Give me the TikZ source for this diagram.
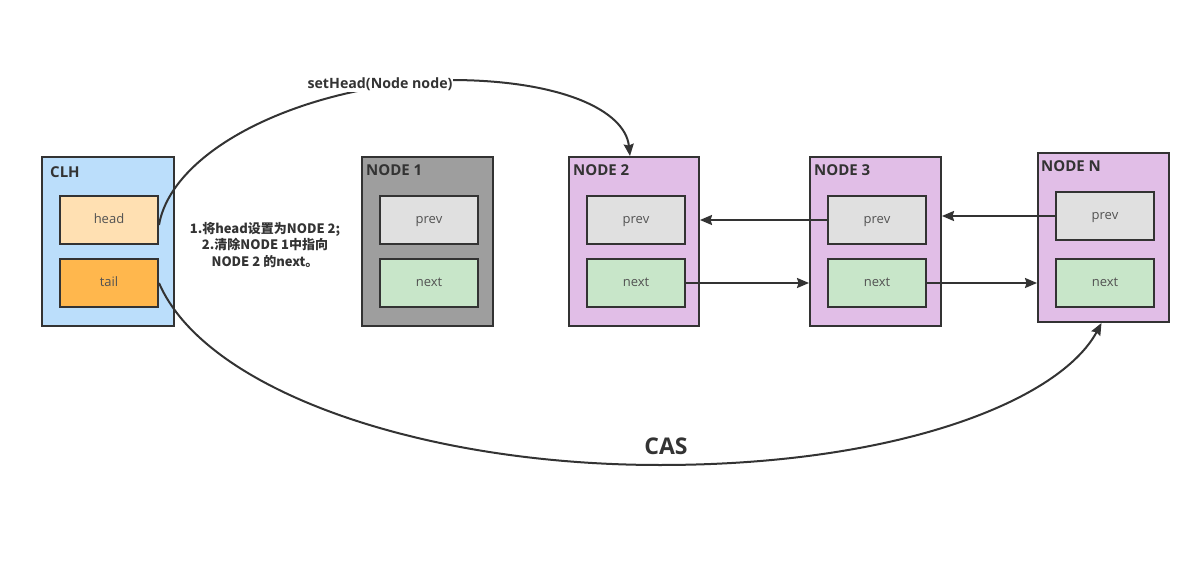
\documentclass[tikz,border=0pt]{standalone}
\usepackage{fontspec}
\setmainfont{Open Sans}
\newfontfamily\cjk{Noto Sans CJK SC}
\usetikzlibrary{arrows.meta}
\definecolor{ink}{HTML}{333333}
\definecolor{clhc}{HTML}{BBDEFB}
\definecolor{headc}{HTML}{FFE0B2}
\definecolor{tailc}{HTML}{FFB74D}
\definecolor{grayc}{HTML}{9E9E9E}
\definecolor{prevc}{HTML}{E0E0E0}
\definecolor{nextc}{HTML}{C8E6C9}
\definecolor{purc}{HTML}{E1BEE7}
\tikzset{
  outer/.style={draw=ink, line width=2pt, minimum width=131pt, minimum height=169pt, inner sep=0pt},
  inner/.style={draw=ink, line width=2pt, minimum width=98pt, minimum height=48pt, inner sep=0pt, text=ink!85, font=\fontsize{13}{15}\selectfont, text height=6pt, text depth=0pt},
  title/.style={anchor=west, text=ink, font=\bfseries\fontsize{15}{17}\selectfont, inner sep=0pt},
  arr/.style={draw=ink, line width=2pt, -{Stealth[length=12pt,width=10pt,inset=1.5pt]}},
}
\begin{document}
\begin{tikzpicture}[x=1pt,y=-1pt]
\useasboundingbox (0,0) rectangle (1194,575);
% outer boxes
\node[outer, fill=clhc, minimum width=132pt] (clh) at (108,241.5) {};
\node[outer, fill=grayc] (n1) at (427.5,241.5) {};
\node[outer, fill=purc, minimum width=130pt] (n2) at (634,241.5) {};
\node[outer, fill=purc] (n3) at (875.5,241.5) {};
\node[outer, fill=purc] (nN) at (1103.5,237.5) {};
% titles
\node[title] (tclh) at (50,172) {CLH};
\node[title] (tn1) at (366,170) {NODE 1};
\node[title] (tn2) at (573,170) {NODE 2};
\node[title] (tn3) at (814,170) {NODE 3};
\node[title] (tnN) at (1041,166) {NODE N};
% inner boxes
\node[inner, fill=headc] (head) at (109,220) {head};
\node[inner, fill=tailc] (tail) at (109,283) {tail};
\node[inner, fill=prevc] (prev1) at (429,220) {prev};
\node[inner, fill=nextc] (next1) at (429,283) {next};
\node[inner, fill=prevc] (prev2) at (636,220) {prev};
\node[inner, fill=nextc] (next2) at (636,283) {next};
\node[inner, fill=prevc] (prev3) at (877,220) {prev};
\node[inner, fill=nextc] (next3) at (877,283) {next};
\node[inner, fill=prevc] (prevN) at (1105,216) {prev};
\node[inner, fill=nextc] (nextN) at (1105,283) {next};
% straight links
\draw[arr] (prev3.west) -- (prev3.west -| n2.east);
\draw[arr] (prevN.west) -- (prevN.west -| n3.east);
\draw[arr] (next2.east) -- (next2.east -| n3.west);
\draw[arr] (next3.east) -- (next3.east -| nN.west);
% curves
\draw[arr] ([yshift=-5pt]head.east) .. controls (172,150) and (300,85) .. (450,80)
  .. controls (560,80) and (625,110) .. ([xshift=-4pt]n2.north);
\node[text=ink, font=\bfseries\fontsize{14.2}{16}\selectfont, fill=white, inner sep=1pt] (lset) at (380,84) {setHead(Node node)};
\draw[arr] (tail.east) .. controls (205,390) and (420,465) .. (660,465)
  .. controls (900,465) and (1060,400) .. ([xshift=-2pt]nN.south);
\node[text=ink, font=\bfseries\fontsize{23}{26}\selectfont] (lcas) at (666,446) {CAS};
% annotation
\node[text=ink, align=center, font=\cjk\bfseries\fontsize{13}{16.5}\selectfont] (note) at (265,245)
  {1.将head设置为NODE 2;\\2.清除NODE 1中指向\\NODE 2 的next。};
\end{tikzpicture}
\end{document}
